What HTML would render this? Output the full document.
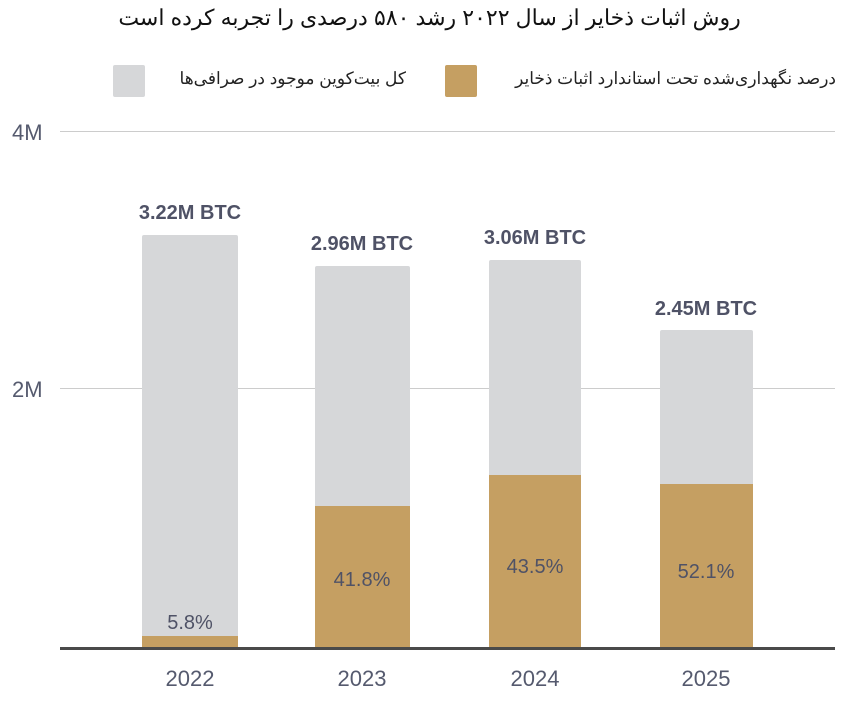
<!DOCTYPE html>
<html><head><meta charset="utf-8"><style>
body{margin:0;background:#fff;width:859px;height:703px;overflow:hidden;position:relative;font-family:"Liberation Sans","Noto Sans CJK SC",sans-serif}
.a{position:absolute}
.t{position:absolute;white-space:nowrap}
</style></head><body>
<div class="t" style="left:0;width:859px;top:5px;text-align:center;font-size:22px;color:#111" dir="rtl">روش اثبات ذخایر از سال ۲۰۲۲ رشد ۵۸۰ درصدی را تجربه کرده است</div>
<div class="a" style="left:113px;top:65px;width:32px;height:32px;background:#d6d7d9;border-radius:2px"></div>
<div class="t" style="left:150px;width:256px;top:69px;text-align:right;font-size:17px;color:#222" dir="rtl">کل بیت‌کوین موجود در صرافی‌ها</div>
<div class="a" style="left:445px;top:65px;width:32px;height:32px;background:#c59f62;border-radius:2px"></div>
<div class="t" style="left:482px;width:354px;top:69px;text-align:right;font-size:17px;color:#222" dir="rtl">درصد نگهداری‌شده تحت استاندارد اثبات ذخایر</div>
<div class="a" style="left:60px;top:131px;width:775px;height:1px;background:#ccc"></div>
<div class="a" style="left:60px;top:388px;width:775px;height:1px;background:#ccc"></div>
<div class="t" style="left:12px;top:120px;font-size:22px;color:#555a6e">4M</div>
<div class="t" style="left:12px;top:377px;font-size:22px;color:#555a6e">2M</div>

<div class="a" style="left:142px;top:235px;width:96px;height:413px;background:#d6d7d9;border-radius:2px 2px 0 0"></div>
<div class="a" style="left:142px;top:636px;width:96px;height:12px;background:#c59f62"></div>
<div class="a" style="left:315px;top:266px;width:95px;height:382px;background:#d6d7d9;border-radius:2px 2px 0 0"></div>
<div class="a" style="left:315px;top:506px;width:95px;height:142px;background:#c59f62"></div>
<div class="a" style="left:489px;top:260px;width:92px;height:388px;background:#d6d7d9;border-radius:2px 2px 0 0"></div>
<div class="a" style="left:489px;top:475px;width:92px;height:173px;background:#c59f62"></div>
<div class="a" style="left:660px;top:330px;width:93px;height:318px;background:#d6d7d9;border-radius:2px 2px 0 0"></div>
<div class="a" style="left:660px;top:484px;width:93px;height:164px;background:#c59f62"></div>

<div class="a" style="left:60px;top:647px;width:775px;height:3px;background:#4a4a4a"></div>

<div class="t" style="left:90px;width:200px;top:202px;text-align:center;font-size:20px;font-weight:bold;color:#4f5266">3.22M BTC</div>
<div class="t" style="left:262px;width:200px;top:233px;text-align:center;font-size:20px;font-weight:bold;color:#4f5266">2.96M BTC</div>
<div class="t" style="left:435px;width:200px;top:227px;text-align:center;font-size:20px;font-weight:bold;color:#4f5266">3.06M BTC</div>
<div class="t" style="left:606px;width:200px;top:298px;text-align:center;font-size:20px;font-weight:bold;color:#4f5266">2.45M BTC</div>

<div class="t" style="left:90px;width:200px;top:612px;text-align:center;font-size:20px;color:#4f5266">5.8%</div>
<div class="t" style="left:262px;width:200px;top:569px;text-align:center;font-size:20px;color:#4f5266">41.8%</div>
<div class="t" style="left:435px;width:200px;top:556px;text-align:center;font-size:20px;color:#4f5266">43.5%</div>
<div class="t" style="left:606px;width:200px;top:561px;text-align:center;font-size:20px;color:#4f5266">52.1%</div>

<div class="t" style="left:90px;width:200px;top:666px;text-align:center;font-size:22px;color:#555a6e">2022</div>
<div class="t" style="left:262px;width:200px;top:666px;text-align:center;font-size:22px;color:#555a6e">2023</div>
<div class="t" style="left:435px;width:200px;top:666px;text-align:center;font-size:22px;color:#555a6e">2024</div>
<div class="t" style="left:606px;width:200px;top:666px;text-align:center;font-size:22px;color:#555a6e">2025</div>
</body></html>
